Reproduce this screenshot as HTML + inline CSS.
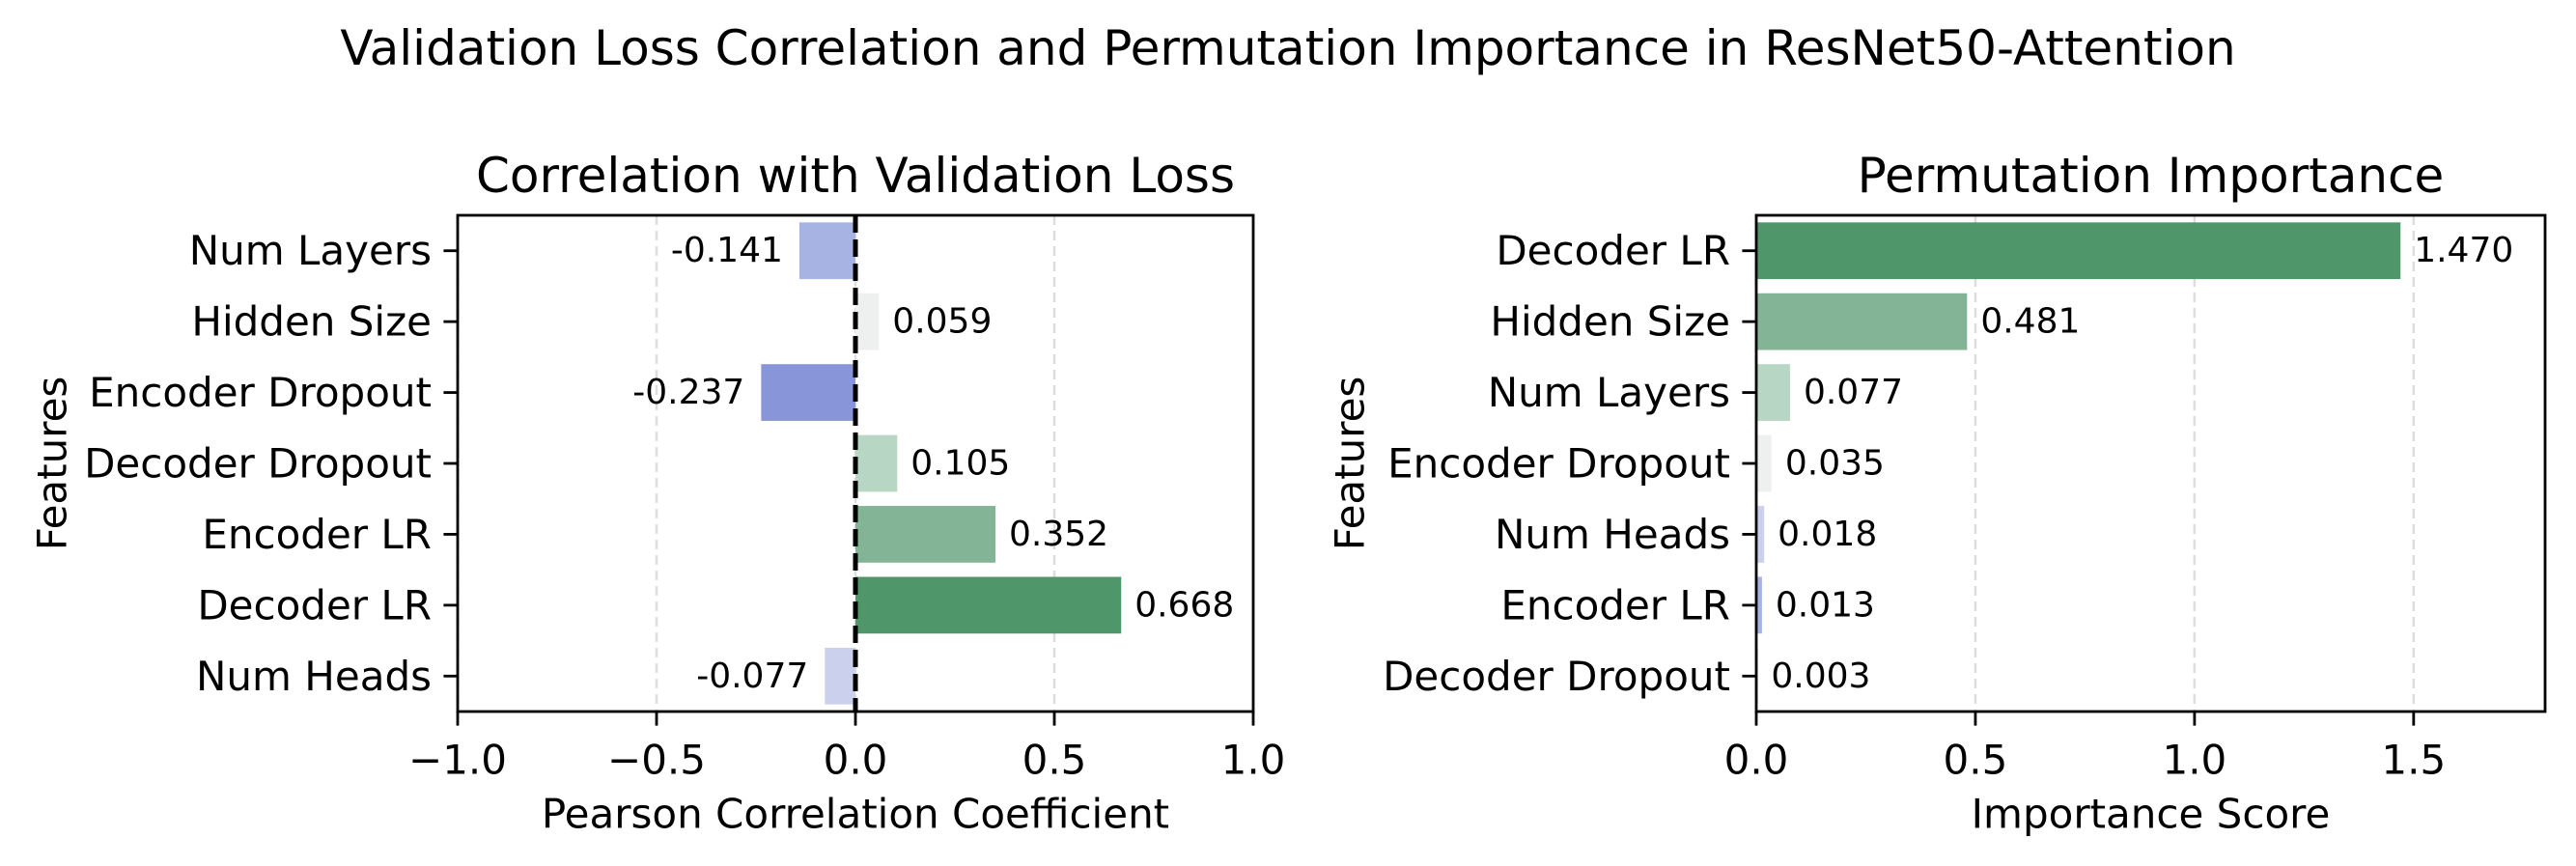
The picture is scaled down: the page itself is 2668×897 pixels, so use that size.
<!DOCTYPE html>
<html><head><meta charset="utf-8"><style>
html,body{margin:0;padding:0;background:#fff;}
svg{display:block;font-family:"DejaVu Sans","Liberation Sans",sans-serif;}
</style></head><body>
<svg id="fig" width="2668" height="897" viewBox="0 0 2668 897" xmlns="http://www.w3.org/2000/svg">
<rect width="2668" height="897" fill="#fff"/>
<text x="1334" y="50" font-size="50" text-anchor="middle" dominant-baseline="central">Validation Loss Correlation and Permutation Importance in ResNet50-Attention</text>
<g id="left"></g>
<g id="right"></g>
</svg>
<script>
const corrFeatures = ["Num Layers","Hidden Size","Encoder Dropout","Decoder Dropout","Encoder LR","Decoder LR","Num Heads"];
const corrValues = [-0.141,0.059,-0.237,0.105,0.352,0.668,-0.077];
const corrTicks = [-1.0,-0.5,0.0,0.5,1.0];
const corrTickLabels = ["\u22121.0","\u22120.5","0.0","0.5","1.0"];
const impFeatures = ["Decoder LR","Hidden Size","Num Layers","Encoder Dropout","Num Heads","Encoder LR","Decoder Dropout"];
const impValues = [1.470,0.481,0.077,0.035,0.018,0.013,0.003];
const impTicks = [0.0,0.5,1.0,1.5];
const impTickLabels = ["0.0","0.5","1.0","1.5"];

const NS="http://www.w3.org/2000/svg";
function mk(parent,tag,attrs,text){const e=document.createElementNS(NS,tag);for(const k in attrs)e.setAttribute(k,attrs[k]);if(text!==undefined)e.textContent=text;parent.appendChild(e);return e;}

function colorFor(v){
  if(v<=-0.2) return "#8896d9";
  if(v<=-0.1) return "#a7b4e3";
  if(v<-0.005) return "#cbd1ec";
  if(v<0.07) return "#eef0ef";
  if(v<0.2) return "#b8d6c4";
  if(v<0.5) return "#83b495";
  return "#4f976a";
}
function impColor(v,i){
  const c=["#4f976a","#83b495","#b8d6c4","#eef0ef","#cbd1ec","#a7b4e3","#8896d9"];
  return c[i];
}

function drawChart(g,opt){
  const {x0,x1,y0,y1,xmin,xmax,feats,vals,ticks,tickLabels,title,xlabel,colorFn,zeroLine}=opt;
  const sx=v=>x0+(v-xmin)/(xmax-xmin)*(x1-x0);
  const n=feats.length;
  const rowH=(y1-y0)/n;
  const sy=i=>y0+(i+0.5)*rowH;
  ticks.forEach(t=>{
    const gl=mk(g,"line",{x1:sx(t),x2:sx(t),y1:y0,y2:y1,stroke:"#dddddd","stroke-width":2.5,"stroke-dasharray":"10,6"});
    
    
  });
  vals.forEach((v,i)=>{
    const bh=rowH*0.8;
    const xa=sx(Math.min(0,v)), xb=sx(Math.max(0,v));
    const r=mk(g,"rect",{x:xa,y:sy(i)-bh/2,width:Math.max(xb-xa,0.5),height:bh,fill:colorFn(v,i)});
    
    
    const neg=v<0;
    const t=mk(g,"text",{x:neg?sx(v)-17:sx(v)+14,y:sy(i),"font-size":36,"text-anchor":neg?"end":"start","dominant-baseline":"central"},v.toFixed(3));
    
    
  });
  if(zeroLine){
    const z=mk(g,"line",{x1:sx(0),x2:sx(0),y1:y0,y2:y1,stroke:"#000","stroke-width":5,"stroke-dasharray":"18,7"});
    
    
  }
  const fr=mk(g,"rect",{x:x0,y:y0,width:x1-x0,height:y1-y0,fill:"none",stroke:"#000","stroke-width":2.8});
  
  
  feats.forEach((f,i)=>{
    mk(g,"line",{x1:x0-14.6,x2:x0,y1:sy(i),y2:sy(i),stroke:"#000","stroke-width":2.8});
    const t=mk(g,"text",{x:x0-27,y:sy(i),"font-size":42,"text-anchor":"end","dominant-baseline":"central"},f);
    
    
  });
  ticks.forEach((tv,k)=>{
    mk(g,"line",{x1:sx(tv),x2:sx(tv),y1:y1,y2:y1+14.6,stroke:"#000","stroke-width":2.8});
    const t=mk(g,"text",{x:sx(tv),y:y1+50,"font-size":42,"text-anchor":"middle","dominant-baseline":"central"},tickLabels[k]);
    
    
  });
  const tt=mk(g,"text",{x:(x0+x1)/2,y:182,"font-size":50,"text-anchor":"middle","dominant-baseline":"central"},title);
  
  
  const xl=mk(g,"text",{x:(x0+x1)/2,y:843,"font-size":42,"text-anchor":"middle","dominant-baseline":"central"},xlabel);
  
  
  const yx=opt.ylabelX, yc=(y0+y1)/2;
  const yl=mk(g,"text",{x:yx,y:yc,"font-size":42,"text-anchor":"middle","dominant-baseline":"central",transform:`rotate(-90 ${yx} ${yc})`},"Features");
  
  
}

drawChart(document.getElementById('left'),{x0:474,x1:1298,y0:223,y1:737,xmin:-1,xmax:1,feats:corrFeatures,vals:corrValues,ticks:corrTicks,tickLabels:corrTickLabels,title:"Correlation with Validation Loss",xlabel:"Pearson Correlation Coefficient",colorFn:colorFor,zeroLine:true,ylabelX:54});
drawChart(document.getElementById('right'),{x0:1819,x1:2636,y0:223,y1:737,xmin:0,xmax:1.8,feats:impFeatures,vals:impValues,ticks:impTicks,tickLabels:impTickLabels,title:"Permutation Importance",xlabel:"Importance Score",colorFn:impColor,zeroLine:false,ylabelX:1398});
</script>
</body></html>
